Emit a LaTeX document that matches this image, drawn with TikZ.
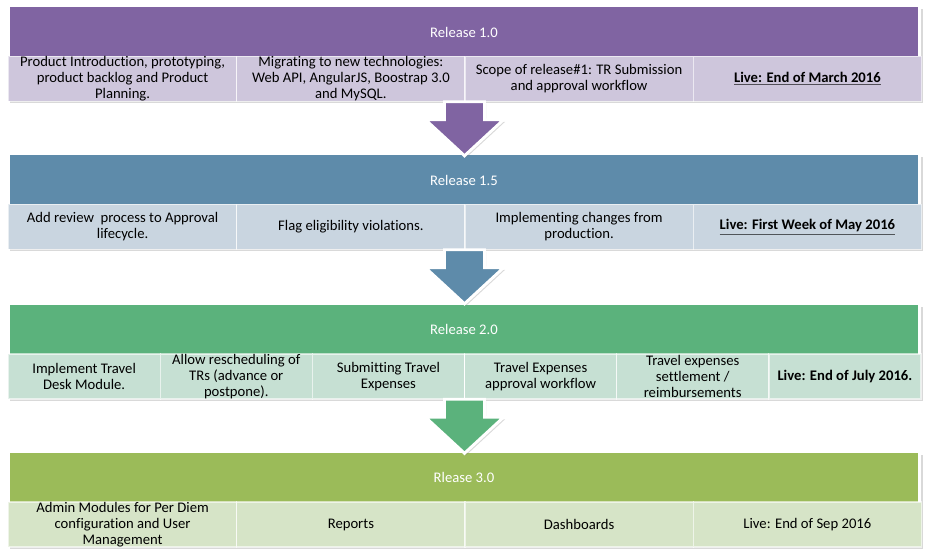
\documentclass[tikz,border=0pt]{standalone}
\usepackage{fontspec}
\setmainfont{Carlito}[Ligatures=NoCommon]
\usetikzlibrary{shadows}
\definecolor{headOne}{RGB}{128,100,162}
\definecolor{cellOne}{RGB}{206,198,220}
\definecolor{headTwo}{RGB}{94,139,170}
\definecolor{cellTwo}{RGB}{201,213,224}
\definecolor{headThree}{RGB}{91,178,124}
\definecolor{cellThree}{RGB}{198,224,211}
\definecolor{headFour}{RGB}{155,187,89}
\definecolor{cellFour}{RGB}{214,228,199}
\tikzstyle{band} = [rectangle, fill=white, minimum width=684.75pt, minimum height=70.5pt, inner sep=0pt, drop shadow={opacity=0.3, shadow xshift=1.2pt, shadow yshift=-1.5pt}]
\tikzstyle{header} = [rectangle, minimum width=681pt, minimum height=36.75pt, inner sep=0pt, text=white, font=\fontsize{11}{12}\selectfont]
\tikzstyle{cell} = [rectangle, draw=white, draw opacity=0.6, line width=1pt, minimum height=33.75pt, inner sep=0pt, align=center, font=\fontsize{11}{12}\selectfont]
\tikzstyle{cellwide} = [cell, minimum width=171.2pt]
\tikzstyle{cellnarrow} = [cell, minimum width=114.1pt]
\tikzstyle{blockarrow} = [draw=white, line width=2.2pt, line join=miter, drop shadow={opacity=0.3, shadow xshift=1.2pt, shadow yshift=-1.5pt}]

\begin{document}
\begin{tikzpicture}[x=0.75pt, y=0.75pt]

        \useasboundingbox (0, 0) rectangle (928, -559);

        \node[band] at (464.5, -54.5) (BandOne) {};
        \node[header, fill=headOne] at (464, -32) (ReleaseOne) {Release 1.0};
        \node[cellwide, fill=cellOne] at (122.6, -79) (ProductIntro) {Product Introduction, prototyping,\\product backlog and Product\\Planning.};
        \node[cellwide, fill=cellOne] at (350.9, -79) (Migrating) {Migrating to new technologies:\\Web API, AngularJS, Boostrap 3.0\\and MySQL.};
        \node[cellwide, fill=cellOne] at (579.1, -79) (ScopeOne) {Scope of release\#1: TR Submission\\and approval workflow};
        \node[cellwide, fill=cellOne] at (807.4, -79) (LiveOne) {\textbf{\underline{Live: End of March 2016}}};

        \node[band] at (464.5, -202.5) (BandTwo) {};
        \node[header, fill=headTwo] at (464, -180) (ReleaseTwo) {Release 1.5};
        \node[cellwide, fill=cellTwo] at (122.6, -227) (ReviewProcess) {Add review~ process to Approval\\lifecycle.};
        \node[cellwide, fill=cellTwo] at (350.9, -227) (FlagViolations) {Flag eligibility violations.};
        \node[cellwide, fill=cellTwo] at (579.1, -227) (ProdChanges) {Implementing changes from\\production.};
        \node[cellwide, fill=cellTwo] at (807.4, -227) (LiveTwo) {\textbf{\underline{Live: First Week of May 2016}}};

        \node[band] at (464.5, -352) (BandThree) {};
        \node[header, fill=headThree] at (464, -329.5) (ReleaseThree) {Release 2.0};
        \node[cellnarrow, fill=cellThree] at (84.1, -376.5) (TravelDesk) {Implement Travel\\Desk Module.};
        \node[cellnarrow, fill=cellThree] at (236.3, -376.5) (Rescheduling) {Allow rescheduling of\\TRs (advance or\\postpone).};
        \node[cellnarrow, fill=cellThree] at (388.4, -376.5) (SubmitExpenses) {Submitting Travel\\Expenses};
        \node[cellnarrow, fill=cellThree] at (540.6, -376.5) (ExpenseApproval) {Travel Expenses\\approval workflow};
        \node[cellnarrow, fill=cellThree] at (692.7, -376.5) (Settlement) {Travel expenses\\settlement /\\reimbursements};
        \node[cellnarrow, fill=cellThree] at (844.9, -376.5) (LiveThree) {\textbf{Live: End of July 2016.}};

        \node[band] at (464.5, -500) (BandFour) {};
        \node[header, fill=headFour] at (464, -477.5) (ReleaseFour) {Rlease 3.0};
        \node[cellwide, fill=cellFour] at (122.6, -524.5) (AdminModules) {Admin Modules for Per Diem\\configuration and User\\Management};
        \node[cellwide, fill=cellFour] at (350.9, -524.5) (Reports) {Reports};
        \node[cellwide, fill=cellFour] at (579.1, -524.5) (Dashboards) {Dashboards};
        \node[cellwide, fill=cellFour] at (807.4, -524.5) (LiveFour) {Live: End of Sep 2016};

        \filldraw[blockarrow, fill=headOne] (BandOne.south) ++(-20, 0) -- ++(0, -18) -- ++(-19, 0) -- ++(39, -36) -- ++(39, 36) -- ++(-19, 0) -- ++(0, 18) -- cycle;
        \filldraw[blockarrow, fill=headTwo] (BandTwo.south) ++(-20, 0) -- ++(0, -18) -- ++(-19, 0) -- ++(39, -36) -- ++(39, 36) -- ++(-19, 0) -- ++(0, 18) -- cycle;
        \filldraw[blockarrow, fill=headThree] (BandThree.south) ++(-20, 0) -- ++(0, -18) -- ++(-19, 0) -- ++(39, -36) -- ++(39, 36) -- ++(-19, 0) -- ++(0, 18) -- cycle;

    \end{tikzpicture}
\end{document}
